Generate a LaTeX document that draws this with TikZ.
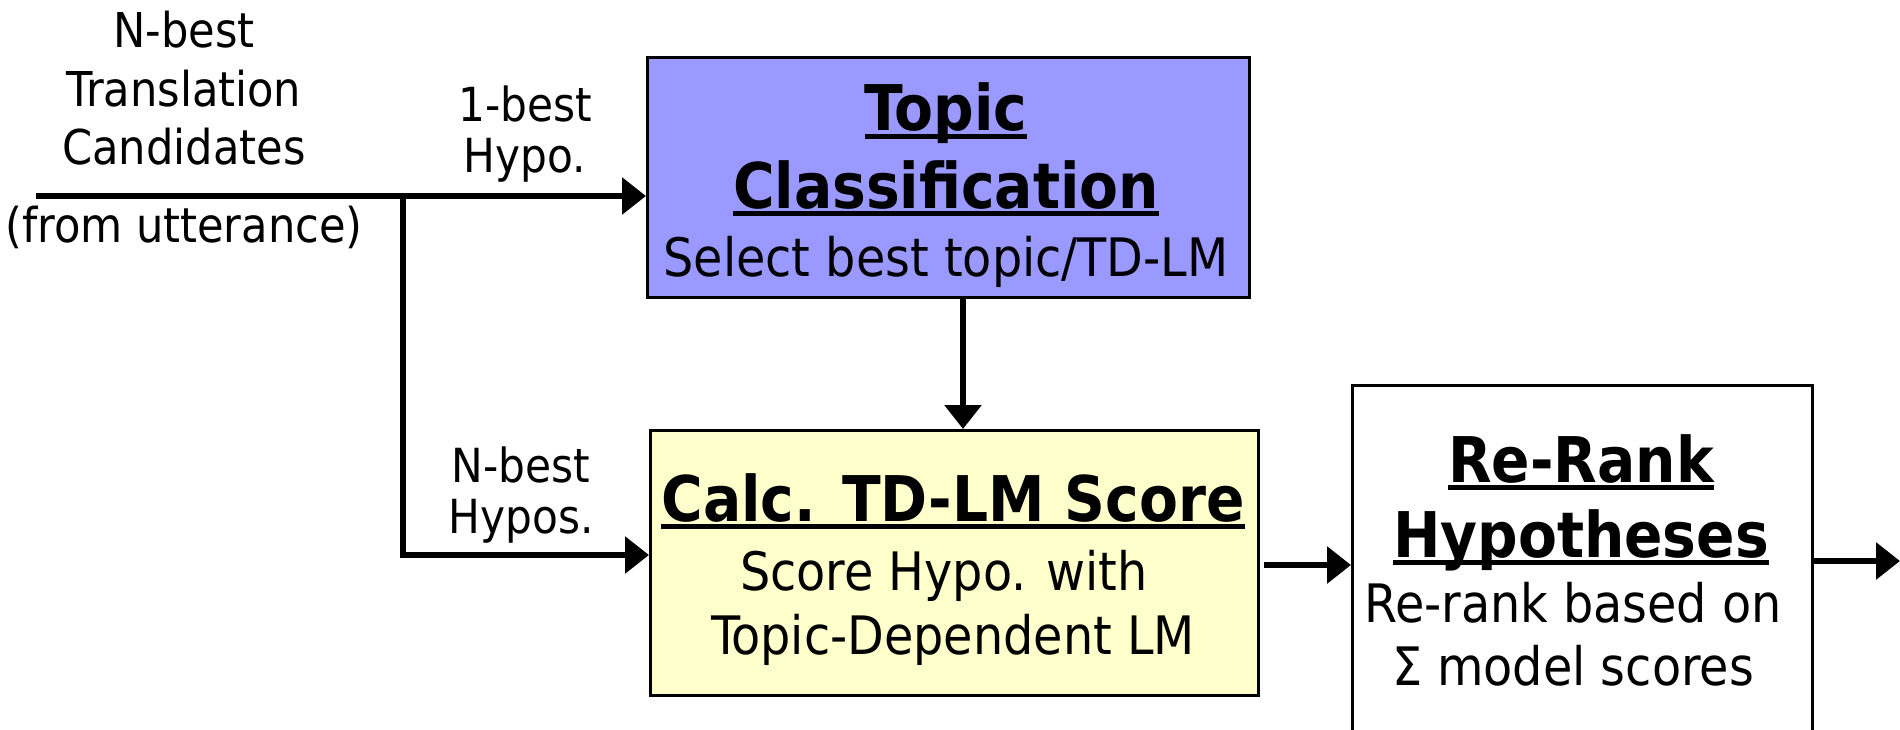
\documentclass[tikz,border=0pt]{standalone}
\usepackage{fontspec}
\setmainfont{DejaVu Sans Condensed}
\usetikzlibrary{arrows.meta,calc}
\definecolor{topicblue}{HTML}{9999FF}
\definecolor{calcyellow}{HTML}{FFFFCC}
\newcommand\ulbox[1]{\setbox0\hbox{#1}\rlap{\rule[-0.13em]{\wd0}{0.075em}}\box0}
\tikzset{
  box/.style={draw=black, line width=3pt, anchor=north west, inner sep=0pt},
  conn/.style={line width=6pt, line cap=butt},
  arr/.style={conn, -{Triangle[length=24pt,width=36pt]}},
  lbl/.style={anchor=base, inner sep=0pt, font=\fontsize{48}{56}\selectfont},
  small/.style={anchor=base, inner sep=0pt, font=\fontsize{47}{54}\selectfont},
  title/.style={anchor=base, inner sep=0pt, font=\fontsize{63}{72}\selectfont\bfseries},
  body/.style={anchor=base, inner sep=0pt, font=\fontsize{53}{60}\selectfont},
}
\begin{document}
\begin{tikzpicture}[x=1pt,y=-1pt]
\useasboundingbox (0,0) rectangle (1900,730);
% boxes
\node[box, fill=topicblue, minimum width=602pt, minimum height=240pt] (topic) at (646,56) {};
\node[box, fill=calcyellow, minimum width=608pt, minimum height=265pt] (calc) at (649,429) {};
\node[box, fill=white, minimum width=460pt, minimum height=360pt] (rerank) at (1351,384) {};
% left labels
\node[lbl] (l1) at (184,48) {N-best};
\node[lbl] (l2) at (184,107) {Translation};
\node[lbl] (l3) at (184,165) {Candidates};
\node[lbl] (l4) at (184,242) {(from utterance)};
\node[small] (h1) at (525,122) {1-best};
\node[small] (h2) at (525,173) {Hypo.};
\node[small] (n1) at (521,482) {N-best};
\node[small] (n2) at (521,533) {Hypos.};
% topic text
\node[title] (t1) at (946,131) {\ulbox{Topic}};
\node[title] (t2) at (946,208) {\ulbox{Classification}};
\node[body] (t3) at (946,276) {Select best topic/TD-LM};
% calc text
\node[title] (c1) at (953,521) {\ulbox{Calc. TD-LM Score}};
\node[body] (c2) at (944,590) {Score Hypo. with};
\node[body] (c3) at (953,654) {Topic-Dependent LM};
% rerank text
\node[title] (r1) at (1581,482) {\ulbox{Re-Rank}};
\node[title] (r2) at (1581,557) {\ulbox{Hypotheses}};
\node[body] (r3) at (1573,622) {Re-rank based on};
\node[body] (r4) at (1573,685) {Σ model scores};
% connectors
\coordinate (start) at (36,196);
\coordinate (split) at (403,196);
\coordinate (bend) at (403,555);
\coordinate (vline) at (963,0);
\coordinate (mid) at (1264,565);
\coordinate (outA) at (1814,561);
\coordinate (outB) at (1900,561);
\draw[arr] (start) -- (start -| topic.west);
\draw[arr] (split) -- (bend) -- (bend -| calc.west);
\draw[arr] (topic.south -| vline) -- (calc.north -| vline);
\draw[arr] (mid) -- (mid -| rerank.west);
\draw[arr] (outA) -- (outB);
\end{tikzpicture}
\end{document}
